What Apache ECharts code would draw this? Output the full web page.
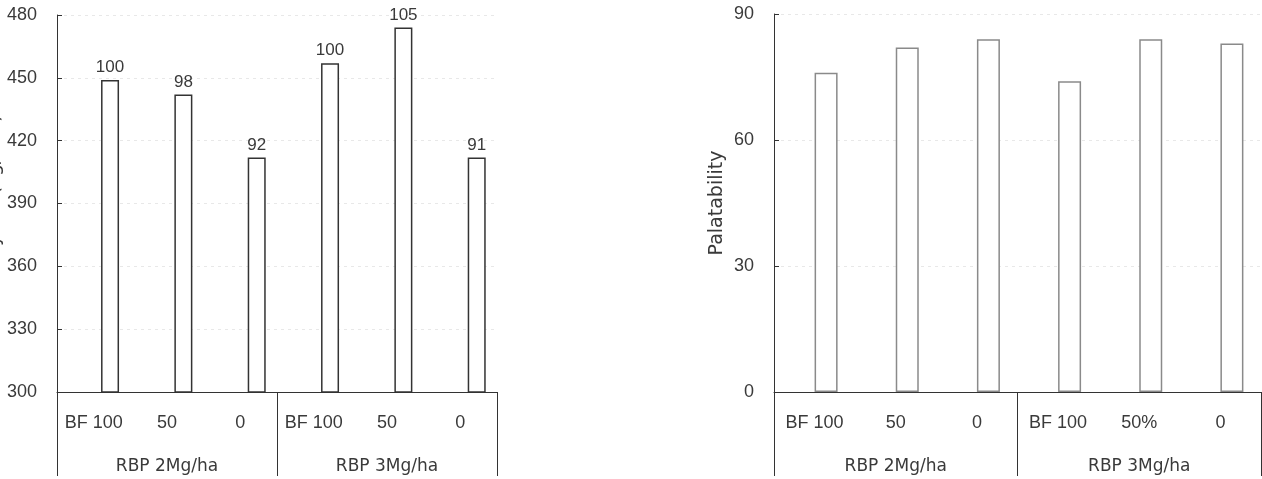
<!DOCTYPE html>
<html>
<head>
<meta charset="utf-8">
<script src="https://cdn.jsdelivr.net/npm/echarts@6/dist/echarts.min.js"></script>
<style>
html,body{margin:0;padding:0;background:#fff;}
#c{width:1262px;height:479px;}
</style>
</head>
<body>
<div id="c"></div>
<script>
// ---- data ----
const bfLevels1 = ['BF 100', '50', '0', 'BF 100', '50', '0'];
const bfLevels2 = ['BF 100', '50', '0', 'BF 100', '50%', '0'];
const rbpGroups = ['RBP 2Mg/ha', 'RBP 3Mg/ha'];
const yieldValues = [449, 442, 412, 457, 474, 412];
const yieldIndexLabels = ['100', '98', '92', '100', '105', '91'];
const palatabilityValues = [76, 82, 84, 74, 84, 83];
const yieldTicks = [300, 480, 30];
const palTicks = [0, 90, 30];

const FONT = 'Liberation Sans';
const FONT2 = 'DejaVu Sans';
const TXT = '#3a3a3a';
const chart = echarts.init(document.getElementById('c'), null, {renderer: 'canvas'});

function catAxis(grid, data, margin) {
  return {
    type: 'category', gridIndex: grid, data: data, position: 'bottom',
    axisLine: {show: true, lineStyle: {color: '#333', width: 1}},
    axisTick: {show: false},
    axisLabel: {margin: margin, fontFamily: FONT, fontSize: 18, color: TXT, interval: 0},
    splitLine: {show: false}
  };
}
function groupAxis(grid, data) {
  return {
    type: 'category', gridIndex: grid, data: data, position: 'bottom',
    axisLine: {show: false},
    axisTick: {show: true, length: 84, alignWithLabel: false, interval: 0, lineStyle: {color: '#333', width: 1}},
    axisLabel: {margin: 66, fontFamily: FONT2, fontSize: 17, color: TXT, interval: 0},
    splitLine: {show: false}
  };
}
function valAxis(grid, ticks, name) {
  return {
    type: 'value', gridIndex: grid, min: ticks[0], max: ticks[1], interval: ticks[2],
    name: name, nameLocation: 'middle', nameGap: 47,
    nameTextStyle: {fontFamily: FONT2, fontSize: 19, color: TXT},
    axisLine: {show: true, lineStyle: {color: '#333', width: 1}},
    axisTick: {show: true, inside: true, length: 5, lineStyle: {color: '#333'}},
    axisLabel: {margin: 20, fontFamily: FONT, fontSize: 18, color: TXT},
    splitLine: {show: true, lineStyle: {color: '#e8e8e8', type: [3, 4], width: 1}}
  };
}

const blank = yieldValues.map(() => '-');

chart.setOption({
  animation: false,
  backgroundColor: '#fff',
  grid: [
    {left: 57, top: 15, width: 440, height: 377, containLabel: false, outerBoundsMode: 'none'},
    {left: 774, top: 14, width: 487, height: 378, containLabel: false, outerBoundsMode: 'none'}
  ],
  xAxis: [
    catAxis(0, bfLevels1, 22),
    groupAxis(0, rbpGroups),
    catAxis(1, bfLevels2, 22),
    groupAxis(1, rbpGroups)
  ],
  yAxis: [
    valAxis(0, yieldTicks, 'Rice yield (kg/10a)'),
    valAxis(1, palTicks, 'Palatability')
  ],
  series: [
    {type: 'bar', xAxisIndex: 0, yAxisIndex: 0, data: blank, barWidth: 18, barGap: '82%', silent: true},
    {type: 'bar', xAxisIndex: 0, yAxisIndex: 0, data: yieldValues, barWidth: 18, barGap: '82%',
      itemStyle: {color: '#fff', borderColor: '#333', borderWidth: 1.5},
      label: {show: true, position: 'top', distance: 4, fontFamily: FONT, fontSize: 17, color: TXT,
        formatter: p => yieldIndexLabels[p.dataIndex]}},
    {type: 'bar', xAxisIndex: 2, yAxisIndex: 1, data: blank, barWidth: 23, barGap: '0%', silent: true},
    {type: 'bar', xAxisIndex: 2, yAxisIndex: 1, data: palatabilityValues, barWidth: 23, barGap: '0%',
      itemStyle: {color: '#fff', borderColor: '#8a8a8a', borderWidth: 1.5}}
  ]
});
</script>
</body>
</html>
